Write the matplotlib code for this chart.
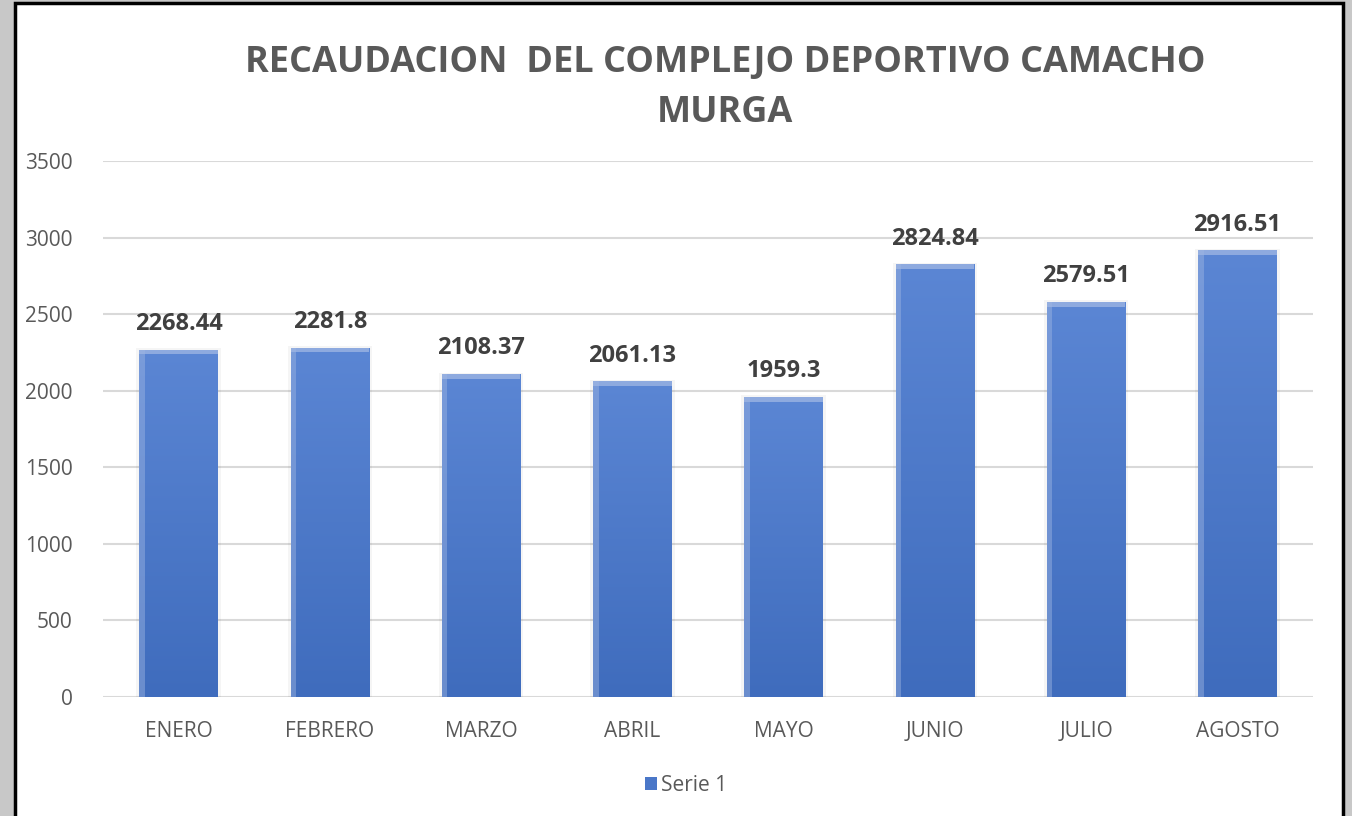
import numpy as np
import matplotlib.pyplot as plt
from matplotlib.patches import Rectangle
from matplotlib.colors import LinearSegmentedColormap

meses = ["ENERO", "FEBRERO", "MARZO", "ABRIL", "MAYO", "JUNIO", "JULIO", "AGOSTO"]
recaudacion = [2268.44, 2281.8, 2108.37, 2061.13, 1959.3, 2824.84, 2579.51, 2916.51]
etiquetas = ["2268.44", "2281.8", "2108.37", "2061.13", "1959.3", "2824.84", "2579.51", "2916.51"]
yticks = [0, 500, 1000, 1500, 2000, 2500, 3000, 3500]

W, H = 1352, 816
fig = plt.figure(figsize=(W / 100, H / 100), dpi=100, facecolor="#c8c8c8")
plt.rcParams['font.family'] = ['Open Sans', 'DejaVu Sans']

# white chart area with black frame
frame = Rectangle((15 / W, -0.01), (1343 - 15) / W, 1 - 3 / H + 0.01, transform=fig.transFigure,
                  facecolor="white", edgecolor="black", linewidth=2.5, zorder=-5)
fig.patches.append(frame)

ax = fig.add_axes([103 / W, 1 - 697 / H, (1313 - 103) / W, (697 - 161) / H])
ax.set_facecolor("none")

x = np.arange(len(meses))
bars = ax.bar(x, recaudacion, width=0.52, color="#4a77c8", zorder=2)

# gradient fill for each bar
grad = np.linspace(0, 1, 256).reshape(-1, 1)
cmap = LinearSegmentedColormap.from_list("g", ["#3f6cbd", "#5b86d4"])
for b in bars:
    x0, w, h = b.get_x(), b.get_width(), b.get_height()
    im = ax.imshow(grad, extent=(x0, x0 + w, 0, h), origin="lower", cmap=cmap,
                   aspect="auto", zorder=3)
    im.set_clip_path(b)
    ax.add_patch(Rectangle((x0, h - 30), w, 30, facecolor="#8eaadf", edgecolor="none", zorder=4))
    ax.add_patch(Rectangle((x0, 0), w * 0.07, h, facecolor="#9fb6e2", alpha=0.45, edgecolor="none", zorder=4))
    ax.add_patch(Rectangle((x0 - 0.02, 0), w + 0.04, h + 10, facecolor="#000000", alpha=0.04,
                           edgecolor="none", zorder=1))

for xi, v, t in zip(x, recaudacion, etiquetas):
    ax.text(xi, v + 90, t, ha="center", va="bottom", fontsize=17, fontweight="bold",
            color="#404040", zorder=5)

ax.set_xlim(-0.5, len(meses) - 0.5)
ax.set_ylim(0, 3500)
ax.set_yticks(yticks)
ax.set_xticks(x)
ax.set_xticklabels(meses)
ax.tick_params(axis="both", length=0, labelsize=15, colors="#595959")
ax.tick_params(axis="y", pad=22)
ax.tick_params(axis="x", pad=17)
ax.grid(axis="y", color="#d9d9d9", linewidth=1.5, zorder=0)
ax.set_axisbelow(True)
for s in ax.spines.values():
    s.set_visible(False)

fig.text(725 / W, 1 - 88 / H, "RECAUDACION  DEL COMPLEJO DEPORTIVO CAMACHO\nMURGA",
         ha="center", va="center", fontsize=26, fontweight="bold", color="#595959",
         linespacing=1.5)

leg = ax.legend([Rectangle((0, 0), 1, 1, facecolor="#4a77c8")], ["Serie 1"],
                loc="upper center", bbox_to_anchor=(0.482, -0.11), frameon=False,
                fontsize=15, handlelength=0.6, handleheight=0.6, handletextpad=0.2)
for t in leg.get_texts():
    t.set_color("#595959")

fig.savefig("out.png", dpi=100, facecolor=fig.get_facecolor())
